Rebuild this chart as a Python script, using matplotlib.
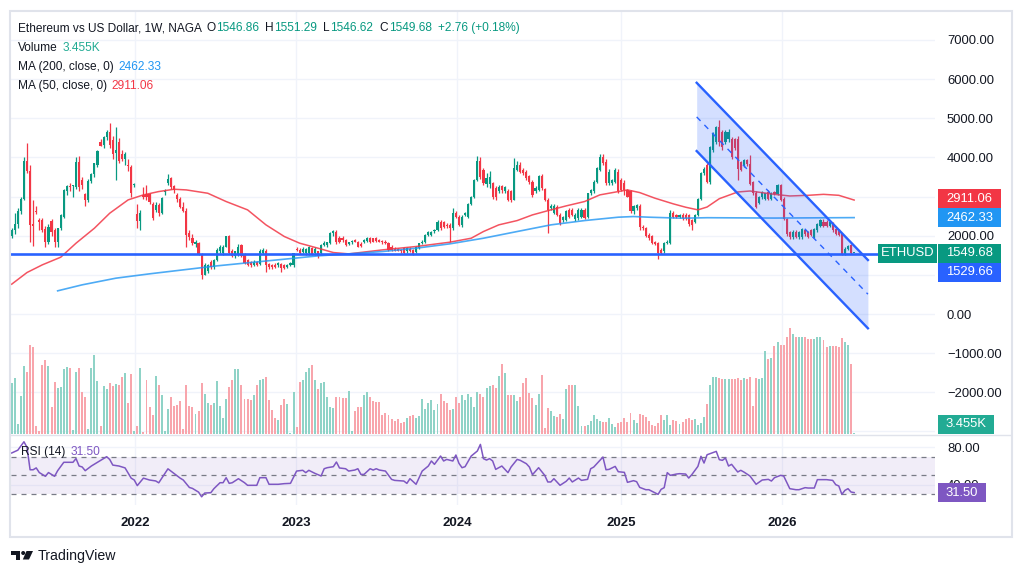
import numpy as np
import matplotlib
matplotlib.use("Agg")
import matplotlib.pyplot as plt
from matplotlib.patches import Rectangle, Polygon, Circle

plt.rcParams['font.family'] = ['Liberation Sans', 'DejaVu Sans']

# weekly ETHUSD candles (oldest first)
opens = [1980, 2150, 2300, 2620, 2940, 3900, 3660, 2300, 2620, 2400,
         2390, 2170, 1850, 2380, 2150, 1850, 2190, 2490, 3130, 3270,
         3260, 3240, 3890, 3420, 3060, 2900, 3400, 3580, 3810, 4390,
         4320, 4510, 4660, 4450, 4110, 4400, 4090, 3950, 3810, 3750,
         3300, 2560, 2380, 3050, 3060, 3060, 2800, 2660, 2790, 2580,
         3110, 3340, 3470, 3270, 3040, 2930, 2730, 2620, 2060, 1940,
         1800, 1810, 1540, 1000, 1090, 1340, 1210, 1380, 1600, 1550,
         1720, 2000, 1600, 1470, 1510, 1770, 1510, 1370, 1320, 1260,
         1330, 1280, 1550, 1620, 1270, 1250, 1250, 1260, 1280, 1250,
         1210, 1250, 1240, 1660, 1640, 1580, 1550, 1560, 1680, 1550,
         1600, 1550, 1770, 1770, 1810, 2060, 2090, 1940, 1940, 1890,
         1800, 1830, 1890, 1850, 1800, 1850, 1860, 1930, 1930, 1930,
         1890, 1870, 1850, 1820, 1720, 1660, 1650, 1640, 1680, 1600,
         1660, 1640, 1590, 1680, 1810, 1850, 2020, 2020, 2110, 2150,
         2360, 2340, 2280, 2280, 2190, 2580, 2490, 2280, 2530, 2490,
         2820, 3000, 3430, 3910, 3680, 3320, 3320, 3340, 3210, 3130,
         3270, 3130, 3130, 3130, 2920, 3680, 3810, 3680, 3640, 3530,
         3380, 3150, 3170, 3530, 3190, 2920, 2700, 2580, 2740, 2530,
         2410, 2410, 2660, 2660, 2420, 2450, 2490, 2660, 2490, 3090,
         3130, 3380, 3680, 4000, 3890, 3340, 3340, 3380, 3640, 3430,
         3340, 3170, 3130, 2620, 2700, 2760, 2230, 2190, 2020, 1980,
         1850, 1810, 1640, 1600, 1810, 1810, 2580, 2530, 2490, 2530,
         2530, 2530, 2400, 2360, 2530, 2950,
         3590, 3800, 3370, 4180, 4400, 4780, 4650, 4400, 4480, 4480,
         4480, 4480, 3890, 3800, 3930, 3840, 3370, 3090, 2840, 2990,
         2950, 3120, 2950, 3120, 3070, 3290, 2950, 2430, 2090, 1960,
         2090, 1960, 1960, 2140, 2090, 2140, 1960, 2140, 2260, 2350,
         2350, 2260, 2300, 2180, 2140, 2050, 1540, 1670, 1750, 1546.86]
highs = [2200, 2575, 2700, 3000, 4000, 4380, 3800, 2900, 2750, 2450,
         2450, 2250, 2300, 2420, 2200, 2200, 2550, 3200, 3300, 3350,
         3300, 4000, 4030, 3500, 3100, 3450, 3600, 3870, 4200, 4460,
         4550, 4700, 4870, 4550, 4780, 4500, 4200, 4150, 3950, 3800,
         3350, 2800, 2650, 3250, 3300, 3100, 2850, 2850, 2830, 2980,
         3200, 3580, 3500, 3300, 3100, 2980, 2850, 2700, 2150, 2050,
         1900, 1850, 1560, 1300, 1280, 1380, 1400, 1680, 1750, 1750,
         2000, 2030, 1650, 1620, 1800, 1800, 1550, 1400, 1350, 1380,
         1350, 1650, 1680, 1660, 1300, 1280, 1300, 1320, 1300, 1290,
         1280, 1330, 1560, 1700, 1680, 1700, 1680, 1740, 1720, 1700,
         1620, 1800, 1860, 1850, 2100, 2140, 2140, 1980, 1980, 1920,
         1850, 1900, 1920, 1870, 1830, 1910, 1960, 1960, 1950, 1960,
         1920, 1900, 1880, 1840, 1750, 1700, 1680, 1670, 1700, 1700,
         1700, 1670, 1740, 1820, 1880, 2040, 2130, 2130, 2180, 2400,
         2400, 2380, 2330, 2330, 2700, 2620, 2520, 2520, 2600, 2830,
         3020, 3450, 4040, 4010, 3720, 3600, 3650, 3380, 3260, 3300,
         3300, 3280, 3200, 3170, 3980, 3900, 3880, 3720, 3680, 3560,
         3420, 3260, 3560, 3570, 3230, 2960, 2800, 2800, 2780, 2570,
         2500, 2650, 2720, 2700, 2580, 2700, 2700, 2700, 3100, 3200,
         3430, 3750, 4100, 4090, 3950, 3700, 3450, 3720, 3700, 3480,
         3430, 3200, 3180, 2780, 2800, 2800, 2280, 2220, 2060, 2020,
         1870, 1850, 1680, 1830, 1880, 2650, 2620, 2560, 2560, 2570,
         2570, 2560, 2430, 2560, 2960, 3620,
         3760, 3860, 4300, 4650, 4800, 4950, 4700, 4700, 4720, 4520,
         4500, 4550, 3920, 3950, 3960, 4050, 3400, 3130, 3020, 3150,
         3100, 3170, 3120, 3150, 3310, 3320, 2980, 2450, 2120, 2150,
         2150, 2130, 2200, 2180, 2120, 2170, 2200, 2330, 2420, 2420,
         2390, 2380, 2350, 2210, 2170, 2080, 1700, 1760, 1780, 1551.29]
lows = [1950, 2050, 2200, 2550, 2900, 3600, 1850, 1730, 2550, 2150,
        2100, 1720, 1800, 2000, 1720, 1720, 2150, 2450, 3050, 3150,
        3000, 3200, 3150, 3200, 2750, 2850, 3350, 3500, 3750, 4280,
        4250, 4450, 4250, 3950, 3430, 3850, 3900, 3800, 3650, 3000,
        3250, 2200, 2150, 2950, 2900, 2800, 2400, 2600, 2500, 2550,
        3050, 3300, 3200, 3100, 2850, 2700, 2600, 1720, 1900, 1750,
        1720, 1500, 890, 1000, 1050, 1150, 1150, 1350, 1560, 1500,
        1700, 1530, 1450, 1420, 1480, 1450, 1270, 1230, 1200, 1220,
        1230, 1250, 1530, 1070, 1150, 1150, 1180, 1200, 1080, 1150,
        1180, 1220, 1200, 1600, 1530, 1550, 1500, 1520, 1500, 1520,
        1430, 1520, 1730, 1720, 1780, 1980, 1800, 1820, 1850, 1740,
        1760, 1780, 1830, 1700, 1700, 1820, 1830, 1820, 1830, 1840,
        1830, 1800, 1790, 1600, 1620, 1600, 1600, 1570, 1530, 1570,
        1580, 1520, 1550, 1650, 1780, 1820, 1990, 1980, 2080, 2120,
        2150, 2200, 2200, 1850, 2150, 2440, 2250, 2230, 2500, 2450,
        2780, 2960, 3400, 3450, 3300, 3250, 3220, 2950, 2900, 3080,
        3100, 3080, 2880, 2850, 2900, 3650, 3600, 3550, 3430, 3330,
        2980, 3100, 3140, 3180, 2880, 2060, 2650, 2550, 2500, 2280,
        2350, 2380, 2450, 2500, 2380, 2400, 2450, 2420, 2450, 3050,
        3100, 3350, 3650, 3800, 3300, 3300, 3300, 3350, 3100, 3130,
        3040, 2980, 2580, 2550, 2650, 2150, 2150, 1960, 1900, 1780,
        1760, 1400, 1540, 1570, 1780, 1780, 2450, 2450, 2450, 2400,
        2400, 2250, 2150, 2330, 2500, 2900,
        3550, 3350, 3330, 4150, 4350, 4300, 4200, 4350, 4400, 3950,
        4200, 3420, 3650, 3750, 3780, 3300, 3050, 2700, 2800, 2950,
        2900, 2900, 2900, 3040, 3050, 2880, 2400, 1980, 1920, 1920,
        1930, 1920, 1920, 2000, 1930, 1980, 1940, 2100, 2230, 2230,
        2230, 2230, 2100, 2030, 1990, 1520, 1510, 1640, 1540, 1546.62]
closes = [2150, 2300, 2620, 2940, 3900, 3660, 2280, 2250, 2600, 2360,
          2150, 1830, 2230, 2090, 1850, 2190, 2530, 3170, 3270, 3250,
          3300, 3890, 3240, 3300, 2900, 3400, 3580, 3850, 4170, 4300,
          4510, 4660, 4320, 4090, 4190, 3900, 3950, 4100, 3770, 3090,
          3320, 2380, 2590, 3000, 3000, 2870, 2450, 2790, 2580, 2960,
          3140, 3440, 3250, 3170, 2930, 2730, 2620, 2020, 1960, 1810,
          1830, 1540, 1000, 1250, 1250, 1210, 1380, 1640, 1720, 1720,
          2000, 1550, 1470, 1600, 1720, 1470, 1300, 1260, 1260, 1340,
          1260, 1620, 1640, 1260, 1210, 1210, 1210, 1300, 1170, 1170,
          1250, 1300, 1550, 1640, 1550, 1670, 1660, 1720, 1540, 1660,
          1470, 1770, 1810, 1830, 2060, 2110, 1850, 1850, 1900, 1770,
          1830, 1850, 1850, 1720, 1730, 1890, 1930, 1850, 1850, 1860,
          1850, 1830, 1820, 1640, 1640, 1620, 1620, 1600, 1550, 1680,
          1600, 1540, 1720, 1810, 1850, 2020, 2100, 2100, 2150, 2360,
          2190, 2230, 2240, 2190, 2580, 2490, 2280, 2490, 2570, 2800,
          3000, 3430, 3910, 3510, 3340, 3480, 3510, 3000, 2980, 3240,
          3170, 3240, 2900, 2900, 3720, 3810, 3640, 3600, 3470, 3360,
          3040, 3210, 3530, 3210, 2900, 2660, 2760, 2760, 2530, 2320,
          2470, 2620, 2490, 2530, 2530, 2660, 2660, 2450, 3090, 3170,
          3380, 3720, 4000, 3850, 3340, 3640, 3430, 3680, 3130, 3170,
          3170, 3000, 2620, 2750, 2790, 2220, 2190, 2000, 1940, 1810,
          1790, 1550, 1570, 1810, 1850, 2590, 2490, 2490, 2530, 2450,
          2450, 2300, 2280, 2530, 2930, 3590,
          3710, 3370, 4270, 4610, 4780, 4400, 4270, 4650, 4650, 4000,
          4230, 3710, 3690, 3930, 3830, 3330, 3090, 2730, 2990, 3120,
          3090, 2950, 3090, 3070, 3290, 2900, 2430, 2050, 1960, 2090,
          1960, 2090, 2180, 2050, 1960, 2010, 2180, 2300, 2390, 2260,
          2260, 2350, 2140, 2050, 2010, 1540, 1670, 1730, 1550, 1549.68]
# volume in K
volume = [152, 167, 30, 114, 204, 187, 267, 262, 24, 9,
          207, 222, 204, 80, 156, 138, 142, 195, 200, 199,
          12, 186, 199, 126, 110, 15, 198, 237, 159, 24,
          144, 134, 154, 144, 150, 147, 171, 183, 93, 180,
          9, 24, 198, 7, 162, 80, 57, 174, 147, 117,
          9, 75, 111, 84, 87, 99, 15, 147, 84, 81,
          60, 69, 153, 120, 93, 87, 93, 159, 84, 48,
          105, 141, 162, 195, 195, 147, 105, 105, 102, 117,
          147, 162, 165, 171, 102, 72, 48, 42, 87, 105,
          90, 3, 126, 21, 156, 162, 186, 197, 207, 162,
          135, 152, 156, 111, 81, 78, 111, 111, 108, 108,
          129, 9, 69, 81, 81, 117, 126, 111, 99, 96,
          96, 57, 63, 57, 45, 39, 45, 33, 36, 48,
          54, 57, 48, 54, 105, 75, 93, 102, 72, 90,
          120, 99, 93, 72, 75, 111, 93, 117, 102, 120,
          111, 81, 126, 120, 111, 138, 144, 147, 138, 174,
          210, 184, 117, 117, 117, 99, 110, 154, 167, 124,
          107, 87, 120, 177, 17, 77, 69, 54, 50, 60,
          44, 135, 147, 147, 147, 84, 24, 24, 27, 39,
          57, 45, 39, 37, 35, 47, 30, 22, 32, 37,
          47, 37, 62, 42, 32, 60, 57, 50, 40, 27,
          24, 32, 57, 42, 56, 27, 43, 39, 30, 37,
          46, 49, 42, 46, 26, 32, 52, 89, 147, 170,
          170, 168, 166, 165, 164, 164, 166, 167, 161, 167,
          164, 170, 84, 167, 165, 167, 250, 224, 228, 264,
          276, 266, 266, 290, 318, 300, 290, 292, 290, 290,
          285, 285, 285, 290, 290, 282, 262, 264, 264, 264,
          262, 287, 276, 268, 210, 3.455]

ma50_week = [0, 5, 10, 16, 21, 27, 32, 38, 43, 48, 53, 57, 64, 70, 77, 83, 89, 94, 100, 105,
             110, 121, 132, 143, 150, 154, 159, 165, 170, 176, 181, 187, 192, 198, 201, 205,
             210, 216, 220, 224, 227, 231, 237, 241, 249, 254, 260, 265, 270, 275]
ma50_val = [762, 1060, 1256, 1451, 1809, 2192, 2575, 2915, 3043, 3128, 3187, 3170, 3085, 2873,
            2660, 2277, 1979, 1809, 1681, 1570, 1536, 1638, 1724, 1834, 1936, 2107, 2277, 2387,
            2532, 2660, 2762, 2873, 3043, 3128, 3170, 3102, 2958, 2813, 2728, 2660, 2733, 2946,
            3117, 3142, 3057, 3015, 3032, 3057, 3032, 2911.06]
ma200_week = [15, 23, 34, 45, 56, 67, 78, 89, 100, 110, 121, 132, 143, 154, 165, 176, 187,
              198, 203, 208, 219, 227, 249, 275]
ma200_val = [592, 745, 915, 1026, 1128, 1230, 1315, 1400, 1485, 1536, 1596, 1681, 1792, 1936,
             2107, 2277, 2387, 2473, 2490, 2473, 2447, 2460, 2451, 2462.33]

rsi_week = [0, 2, 4, 5, 6, 7, 8, 9, 11, 12, 14, 15, 17, 20, 21, 22, 23, 24, 26, 28, 30, 31, 32,
            33, 35, 37, 39, 40, 41, 43, 45, 47, 48, 51, 53, 55, 56, 58, 59, 61, 62, 63, 65, 66,
            68, 69, 70, 71, 72, 74, 76, 77, 80, 81, 83, 84, 87, 89, 91, 93, 95, 96, 97, 99, 101,
            102, 103, 105, 106, 107, 109, 110, 112, 113, 114, 115, 117, 118, 119, 120, 122, 124,
            125, 128, 129, 130, 132, 134, 136, 137, 138, 140, 141, 142, 144, 145, 146, 147, 148,
            150, 152, 153, 154, 155, 156, 157, 158, 160, 162, 163, 165, 166, 168, 169, 170, 172,
            174, 175, 176, 177, 179, 181, 182, 183, 185, 186, 188, 189, 190, 193, 194, 195, 197,
            198, 200, 201, 203, 204, 205, 207, 208, 211, 212, 213, 214, 215, 217, 218, 220, 221,
            222, 224, 225, 226, 227, 230, 231, 232, 233, 234, 235, 237, 238, 239, 241, 243, 245,
            247, 248, 249, 251, 252, 254, 256, 257, 259, 260, 262, 263, 266, 268, 269, 270, 271,
            272, 273, 274, 275]
rsi_val = [74, 77, 86, 80, 56, 56, 58, 53, 49, 53, 49, 55, 64, 64, 68, 60, 59, 55, 60, 64, 68, 70,
           67, 61, 60, 58, 47, 45, 39, 47, 45, 44, 42, 57, 52, 47, 45, 37, 36, 32, 27, 31, 31.4,
           35.7, 42.1, 42.1, 47.5, 41.4, 42.1, 46.4, 42.1, 39.3, 39.3, 47.5, 47.5, 40.4, 40.4,
           41.1, 41.4, 54.6, 55.4, 52.9, 55.4, 52.1, 49.3, 57.1, 58.2, 59.3, 64.3, 57.9, 57.1,
           54.6, 55.7, 57.1, 51, 51, 57.1, 55.7, 57.1, 55.7, 54.6, 45.7, 44.6, 43.9, 41.4, 46.4,
           40.4, 54.6, 60, 65.4, 61.8, 70.7, 65.4, 67.1, 65.4, 71.8, 62.9, 58.2, 59.3, 70.7, 76.1,
           83.2, 67.9, 66.4, 67.9, 65.4, 56.4, 60, 52.9, 58.9, 67.1, 66.1, 62.5, 58.9, 50.7, 58.2,
           50, 42.9, 42.9, 46.4, 39.3, 43.6, 47.1, 42.9, 47.1, 44.6, 45.7, 57.1, 58.9, 69.6, 56,
           56.4, 59.6, 53.9, 53.2, 42.5, 44.3, 43.2, 37.1, 34.6, 34.6, 29.6, 35, 36.8, 52.9, 50,
           51.4, 51.8, 51.4, 47.1, 50.7, 59.6, 70.4, 63.2, 72.1, 75.7, 66.8, 66.1, 68.6, 60, 61.8,
           53.6, 55.4, 53.6, 49.3, 40.4, 45, 45.7, 43.9, 47.5, 50, 49.3, 35.7, 34.6, 34.6, 36.8,
           36.4, 36.4, 45.4, 45.4, 44.6, 40, 38.6, 29.6, 33.9, 35.7, 32.1, 31.5]

years = ['2022', '2023', '2024', '2025', '2026']
year_week = [40.3, 92.8, 145.4, 198.9, 251.5]

price_ticks = [-3000, -2000, -1000, 0, 1000, 2000, 3000, 4000, 5000, 6000, 7000]
hidden_ticks = [-3000, 1000, 3000]   # covered by the value tags in the chart

support = 1529.66
chan_week = [223.6, 279.5]
chan_top = [5907, 1379]
chan_mid = [5035, 507]
chan_bot = [4163, -365]

change, change_pct = 2.76, 0.18
vol_last = '3.455K'
rsi_last = rsi_val[-1]

UP, DOWN = '#089981', '#F23645'
DARK = '#131722'
GRID = '#f0f3fa'
W, H = 1023, 576

fig = plt.figure(figsize=(W / 100, H / 100), dpi=100)
fig.patch.set_facecolor('white')


def box(x0, y0, x1, y1):
    return [x0 / W, 1 - y1 / H, (x1 - x0) / W, (y1 - y0) / H]


o = np.array(opens)
hi = np.array(highs)
lo = np.array(lows)
c = np.array(closes)
wk = np.arange(len(c))
up = c >= o
col = np.where(up, UP, DOWN)
vcol = np.where(up, '#8fd3c7', '#f8a5ac')

ax = fig.add_axes(box(11, 12, 935, 435), zorder=1)
axv = fig.add_axes(box(11, 12, 935, 435), zorder=2, sharex=ax)
axr = fig.add_axes(box(11, 436, 935, 505), zorder=1, sharex=ax)
ov = fig.add_axes([0, 0, 1, 1], zorder=10)

# price pane
ax.set_xlim(-0.23, 301.4)
ax.set_ylim(-3091, 7715)
ax.set_yticks(price_ticks)
ax.set_yticklabels(['' if v in hidden_ticks else f'{v:.2f}'.replace('-', '\u2212')
                    for v in price_ticks])
ax.yaxis.tick_right()
ax.set_xticks(year_week)
ax.tick_params(axis='x', length=0, labelbottom=False)
ax.tick_params(axis='y', length=0, pad=8.6, labelsize=9.4, labelcolor=DARK)
ax.grid(True, color=GRID, lw=1)
ax.set_axisbelow(True)
for s in ax.spines.values():
    s.set_visible(False)

ax.vlines(wk, lo, hi, colors=col, lw=0.9, zorder=3)
ax.bar(wk, np.maximum(np.abs(c - o), 28), bottom=np.minimum(o, c), width=0.7,
       color=col, lw=0, zorder=4)
ax.plot(ma50_week, ma50_val, color='#F23645', lw=1.1, alpha=0.85, zorder=5)
ax.plot(ma200_week, ma200_val, color='#2196F3', lw=1.2, alpha=0.8, zorder=5)

ax.fill_between(chan_week, chan_bot, chan_top, color='#2962FF', alpha=0.2, lw=0, zorder=6)
ax.plot(chan_week, chan_top, color='#2962FF', lw=1.7, zorder=7)
ax.plot(chan_week, chan_bot, color='#2962FF', lw=1.7, zorder=7)
ax.plot(chan_week, chan_mid, color='#2962FF', lw=1, ls=(0, (4, 4)), zorder=7)
ax.axhline(support, color='#2962FF', lw=1.9, zorder=8)

# volume overlay
axv.bar(wk, volume, width=0.64, color=vcol, lw=0)
axv.set_ylim(-3, 1266)
axv.axis('off')

# RSI pane
axr.set_ylim(18.2, 92.2)
axr.axhspan(30, 70, color='#7E57C2', alpha=0.1, lw=0)
for lvl in (70, 50, 30):
    axr.axhline(lvl, color='#787B86', lw=0.9, ls=(0, (4, 4)))
axr.plot(rsi_week, rsi_val, color='#7E57C2', lw=1.1)
axr.set_yticks([40, 80])
axr.set_yticklabels(['40.00', '80.00'])
axr.yaxis.tick_right()
axr.set_xticks(year_week)
axr.set_xticklabels(years, fontweight='bold')
axr.tick_params(axis='y', length=0, pad=8.6, labelsize=9.4, labelcolor=DARK)
axr.tick_params(axis='x', length=0, pad=8.5, labelsize=9.5, labelcolor=DARK)
axr.grid(True, color=GRID, lw=1)
axr.set_axisbelow(True)
for s in axr.spines.values():
    s.set_visible(False)

# overlay in pixel coordinates
ov.set_xlim(0, W)
ov.set_ylim(H, 0)
ov.axis('off')
ov.patch.set_alpha(0)
renderer = fig.canvas.get_renderer()


def ypix(a, v):
    return H - a.transData.transform((0, v))[1]


def tag(yc, text, color, x0=938, x1=1001):
    ov.add_patch(Rectangle((x0, yc - 9.5), x1 - x0, 19, color=color, lw=0))
    ov.text((x0 + x1) / 2, yc, text, color='white', ha='center', va='center', fontsize=9.4)


def row(y, pieces, x=17.7, fs=8.6):
    # pieces: (text, colour, gap after)
    for text, color, gap in pieces:
        t = ov.text(x, y, text, color=color, fontsize=fs, va='center')
        x += t.get_window_extent(renderer=renderer).width + gap


ov.plot([11, 1011], [435, 435], color='#e0e3eb', lw=1)
ov.add_patch(Rectangle((10, 11), 1002, 526, fill=False, ec='#e0e3eb', lw=1.5))

tag(ypix(ax, ma50_val[-1]) - 1.5, f'{ma50_val[-1]:.2f}', '#F23645')
tag(ypix(ax, ma200_val[-1]), f'{ma200_val[-1]:.2f}', '#2196F3')
y_last = ypix(ax, closes[-1])
tag(y_last, f'{closes[-1]:.2f}', UP)
tag(y_last, 'ETHUSD', UP, 878, 937)
tag(y_last + 19, f'{support:.2f}', '#2962FF')
tag(ypix(axv, -3) - 11, vol_last, '#22AB94', 938, 994)
tag(ypix(axr, rsi_last), f'{rsi_last:.2f}', '#7E57C2', 938, 986)

# legend / header
row(28.3, [('Ethereum vs US Dollar, 1W, NAGA', DARK, 5),
           ('O', DARK, 0.5), (f'{opens[-1]:.2f}', UP, 6),
           ('H', DARK, 0.5), (f'{highs[-1]:.2f}', UP, 6),
           ('L', DARK, 0.5), (f'{lows[-1]:.2f}', UP, 6),
           ('C', DARK, 0.5), (f'{closes[-1]:.2f}', UP, 6),
           (f'+{change:.2f} (+{change_pct:.2f}%)', UP, 0)])
row(48.3, [('Volume', DARK, 5), (vol_last, '#22AB94', 0)])
row(66.7, [('MA (200, close, 0)', DARK, 5), (f'{ma200_val[-1]:.2f}', '#2196F3', 0)])
row(86, [('MA (50, close, 0)', DARK, 5), (f'{ma50_val[-1]:.2f}', '#F23645', 0)])
row(452, [('RSI (14)', DARK, 6), (f'{rsi_last:.2f}', '#7E57C2', 0)], x=20.7)

# TradingView logo
ov.add_patch(Rectangle((11, 551), 9, 3.5, color=DARK, lw=0))
ov.add_patch(Rectangle((15.5, 551), 4.5, 8.5, color=DARK, lw=0))
ov.add_patch(Circle((23.2, 553), 2, color=DARK, lw=0))
ov.add_patch(Polygon([(26.5, 551), (33, 551), (29, 559.5), (22.8, 559.5)], color=DARK, lw=0))
ov.text(38, 556, 'TradingView', color=DARK, fontsize=10.2, va='center')

fig.savefig('out.png', dpi=100)
